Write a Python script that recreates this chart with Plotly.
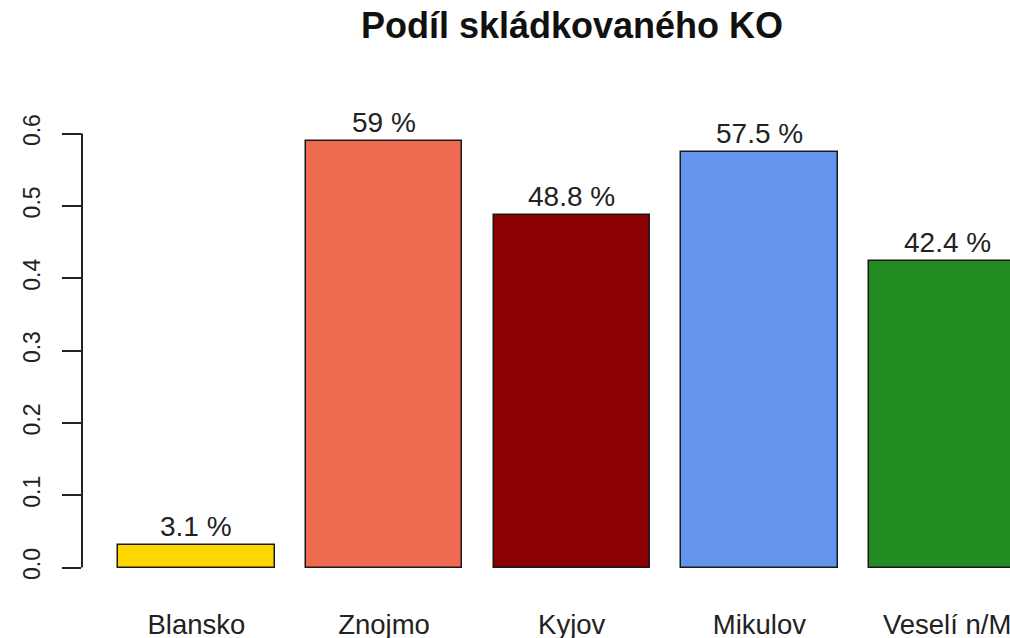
import plotly.graph_objects as go

# ---- data ----
categories = ["Blansko", "Znojmo", "Kyjov", "Mikulov", "Veselí n/M"]
values = [0.031, 0.590, 0.488, 0.575, 0.424]
bar_colors = ["#FFD700", "#EE6A50", "#8B0000", "#6495ED", "#228B22"]
y_ticks = [0.0, 0.1, 0.2, 0.3, 0.4, 0.5, 0.6]
title_text = "Podíl skládkovaného KO"

# R barplot positions: width 1, space 0.2
positions = [0.2 + 1.2 * i + 0.5 for i in range(len(categories))]
label_texts = [f"{round(v * 100, 1):g} %" for v in values]

W, H = 1010, 638
ML, MR, MT, MB = 82, 0, 88, 48
# pixel mapping derived from the reference layout
u0_px, px_per_u = 86.9, 156.4
y0_px, px_per_y = 567.5, 723.3
x_range = [(ML - u0_px) / px_per_u, (W - MR - u0_px) / px_per_u]
y_range = [-((H - MB) - y0_px) / px_per_y, (y0_px - MT) / px_per_y]

FONT = "Liberation Sans, Arial, sans-serif"

fig = go.Figure()
fig.add_trace(go.Bar(
    x=positions, y=values, width=1.0,
    marker=dict(color=bar_colors, line=dict(color="#1a1a1a", width=1.5)),
    hoverinfo="x+y", showlegend=False,
))

for xp, v, t in zip(positions, values, label_texts):
    fig.add_annotation(x=xp, y=v, text=t, showarrow=False, xref="x", yref="y",
                       yanchor="bottom", yshift=1,
                       font=dict(family=FONT, size=28, color="#222222"))

# R-style y axis line spanning only the tick range
fig.add_shape(type="line", xref="paper", yref="y", x0=0, x1=0,
              y0=y_ticks[0], y1=y_ticks[-1], line=dict(color="#222222", width=2))

fig.update_layout(
    width=W, height=H,
    margin=dict(l=ML, r=MR, t=MT, b=MB, autoexpand=False),
    paper_bgcolor="white", plot_bgcolor="white",
    title=dict(text=f"<b>{title_text}</b>", x=(572 / W), xanchor="center",
               y=1 - 25 / H, yanchor="middle", xref="container", yref="container",
               font=dict(family=FONT, size=36, color="#111111")),
    xaxis=dict(range=x_range, tickvals=positions, ticktext=categories,
               showgrid=False, zeroline=False, showline=False, ticks="",
               tickfont=dict(family=FONT, size=27.5, color="#222222"),
               ticklabelstandoff=15, ticklabeloverflow="allow",
               automargin=False, fixedrange=True),
    yaxis=dict(range=y_range, tickvals=y_ticks, ticktext=[f"{t:.1f}" for t in y_ticks],
               showgrid=False, zeroline=False, showline=False,
               ticks="outside", ticklen=19, tickwidth=2, tickcolor="#222222",
               tickangle=-90, tickfont=dict(family=FONT, size=23, color="#222222"),
               ticklabelstandoff=13, automargin=False, fixedrange=True),
    bargap=0,
)

fig.write_html("out.html", config={"displayModeBar": False},
               post_script="document.body.style.margin='0';")
